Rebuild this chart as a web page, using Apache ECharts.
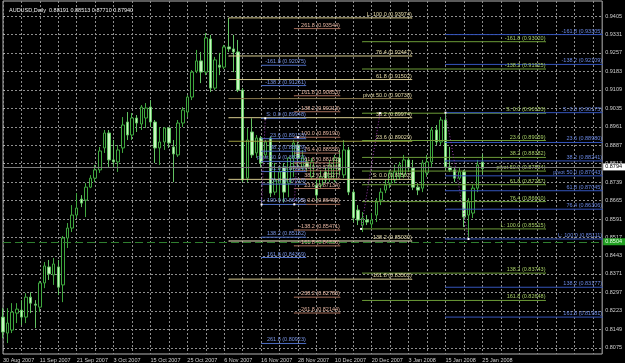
<!DOCTYPE html>
<html><head><meta charset="utf-8">
<script src="https://cdn.jsdelivr.net/npm/echarts@6/dist/echarts.min.js"></script>
<style>html,body{margin:0;padding:0;background:#000}#c{width:625px;height:363px}</style>
</head><body><div id="c"></div>
<script>
// ---- data ----
const titleText = 'AUDUSD,Daily  0.88191 0.88513 0.87710 0.87940';
const dateLabels = ['30 Aug 2007','11 Sep 2007','21 Sep 2007','3 Oct 2007','15 Oct 2007','25 Oct 2007','6 Nov 2007','16 Nov 2007','28 Nov 2007','10 Dec 2007','20 Dec 2007','3 Jan 2008','15 Jan 2008','25 Jan 2008'];
const dateLabelBars = [0,8,16,24,32,40,48,56,64,72,80,88,96,104];
const opens = [0.8198,0.8134,0.8146,0.8214,0.8226,0.8198,0.8278,0.8250,0.8238,0.8335,
0.8399,0.8367,0.8399,0.8327,0.8515,0.8555,0.8607,0.8671,0.8667,0.8719,
0.8755,0.8788,0.8876,0.8936,0.8828,0.8820,0.8876,0.8980,0.8928,0.8996,
0.8972,0.8996,0.9040,0.8980,0.8876,0.8900,0.8956,0.8880,0.8848,0.8976,
0.9020,0.9080,0.9184,0.9225,0.9180,0.9313,0.9116,0.9208,0.9200,0.9281,
0.9273,0.9261,0.9108,0.8755,0.8940,0.8856,0.8916,0.8848,0.8916,0.8699,
0.8735,0.8800,0.8735,0.8836,0.8888,0.8800,0.8820,0.8760,0.8727,0.8727,
0.8780,0.8755,0.8748,0.8836,0.8768,0.8868,0.8699,0.8627,0.8567,0.8587,
0.8571,0.8607,0.8667,0.8707,0.8735,0.8748,0.8760,0.8768,0.8828,0.8796,
0.8719,0.8715,0.8776,0.8820,0.8948,0.8900,0.8988,0.8800,0.8788,0.8755,
0.8780,0.8607,0.8615,0.8715,0.88191];
const closes = [0.8138,0.8174,0.8218,0.8230,0.8198,0.8278,0.8254,0.8246,0.8335,0.8403,
0.8371,0.8411,0.8318,0.8515,0.8555,0.8607,0.8635,0.8655,0.8719,0.8755,
0.8788,0.8864,0.8936,0.8828,0.8820,0.8868,0.8968,0.8928,0.8996,0.8976,
0.9040,0.9036,0.8980,0.8876,0.8900,0.8956,0.8896,0.8852,0.8976,0.9028,
0.9080,0.9180,0.9225,0.9180,0.9317,0.9116,0.9229,0.9200,0.9281,0.9273,
0.9261,0.9108,0.8748,0.8908,0.8848,0.8916,0.8816,0.8900,0.8695,0.8748,
0.8780,0.8699,0.8836,0.8896,0.8836,0.8840,0.8800,0.8820,0.8687,0.8760,
0.8748,0.8808,0.8836,0.8788,0.8868,0.8699,0.8595,0.8587,0.8595,0.8579,
0.8587,0.8659,0.8699,0.8727,0.8776,0.8780,0.8808,0.8828,0.8796,0.8719,
0.8707,0.8816,0.8820,0.8948,0.8900,0.8988,0.8800,0.8788,0.8755,0.8780,
0.8599,0.8659,0.8715,0.8808,0.87940];
const lows = [0.8114,0.8094,0.8134,0.8174,0.8166,0.8174,0.8214,0.8154,0.8218,0.8314,
0.8347,0.8327,0.8286,0.8258,0.8475,0.8539,0.8595,0.8639,0.8599,0.8715,
0.8739,0.8776,0.8856,0.8800,0.8796,0.8780,0.8856,0.8908,0.8908,0.8940,
0.8948,0.8956,0.8960,0.8816,0.8808,0.8868,0.8876,0.8739,0.8840,0.8960,
0.9000,0.9068,0.9176,0.9136,0.9168,0.9100,0.9108,0.9168,0.9192,0.9261,
0.9180,0.9100,0.8739,0.8739,0.8836,0.8836,0.8800,0.8836,0.8679,0.8687,
0.8667,0.8659,0.8679,0.8760,0.8800,0.8780,0.8780,0.8748,0.8667,0.8715,
0.8735,0.8739,0.8739,0.8768,0.8755,0.8687,0.8579,0.8567,0.8539,0.8567,
0.8555,0.8579,0.8647,0.8695,0.8715,0.8735,0.8748,0.8755,0.8780,0.8707,
0.8687,0.8699,0.8760,0.8800,0.8888,0.8888,0.8788,0.8780,0.8739,0.8748,
0.8559,0.8511,0.8595,0.8699,0.87710];
const highs = [0.8234,0.8234,0.8254,0.8254,0.8266,0.8294,0.8298,0.8266,0.8343,0.8419,
0.8427,0.8435,0.8427,0.8523,0.8575,0.8647,0.8695,0.8687,0.8735,0.8767,
0.8808,0.8880,0.8948,0.8948,0.8908,0.8888,0.9000,0.9020,0.9016,0.9008,
0.9048,0.9056,0.9068,0.8988,0.8960,0.8960,0.8960,0.8908,0.8988,0.9040,
0.9088,0.9188,0.9269,0.9261,0.9337,0.9329,0.9241,0.9257,0.9289,0.9397,
0.9329,0.9309,0.9116,0.8956,0.8995,0.8928,0.8924,0.8908,0.8920,0.8816,
0.8800,0.8816,0.8840,0.8908,0.8900,0.8868,0.8836,0.8836,0.8748,0.8788,
0.8796,0.8828,0.8848,0.8868,0.8908,0.8880,0.8707,0.8647,0.8619,0.8607,
0.8615,0.8675,0.8715,0.8748,0.8788,0.8808,0.8820,0.8848,0.8840,0.8828,
0.8735,0.8828,0.8848,0.8960,0.8968,0.9000,0.9015,0.8880,0.8796,0.8796,
0.8788,0.8675,0.8727,0.8828,0.88513];
const priceTicks = [0.8075,0.8149,0.8223,0.8297,0.8371,0.8443,0.8517,0.8591,0.8665,0.8739,0.8813,0.8887,0.8961,0.9035,0.9109,0.9183,0.9257,0.9331,0.9405];
const bidPrice = 0.8794;
const hLinePrice = 0.8504;

// Fibonacci levels (labels and prices as printed on the chart)
const tanLabels = ['L: 100.0','76.4','61.8','pivot 50.0','38.2','23.6','S: 0.0','-138.2','-161.8'];
const tanValues = [0.93974,0.92447,0.91502,0.90738,0.89974,0.89029,0.87502,0.85030,0.83502];
const salmonLabels = ['261.8','161.8','138.2','100.0','76.4','61.8','pivot 50.0','38.2','23.6','S: 0.0','-138.2','-161.8','-238.2','-261.8'];
const salmonValues = [0.93544,0.90853,0.90213,0.89190,0.88555,0.88162,0.87845,0.87527,0.87134,0.86499,0.85471,0.84836,0.82780,0.82144];
const blue1Labels = ['-161.8','-138.2','S: 0.0','23.6','38.2','pivot 50.0','61.8','76.4','L: 100.0','138.2','161.8','261.8'];
const blue1Values = [0.92075,0.91261,0.89948,0.89133,0.88629,0.88222,0.87814,0.87310,0.86495,0.85182,0.84369,0.80923];
const greenLabels = ['-161.8','-138.2','S: 0.0','23.6','38.2','pivot 50.0','61.8','76.4','L: 100.0','138.2','161.8'];
const greenValues = [0.93020,0.91925,0.90153,0.89059,0.88382,0.87834,0.87287,0.86610,0.85515,0.83743,0.82648];
const blue2Labels = ['-161.8','-138.2','S: 0.0','23.6','38.2','pivot 50.0','61.8','76.4','L: 100.0','138.2','161.8'];
const blue2Values = [0.93305,0.92109,0.90175,0.88980,0.88241,0.87643,0.87045,0.86306,0.85111,0.83177,0.81981];
// anchor bars of each fib tool (time anchors)
const tanSpan = [49, 88.7], salmonSpan = [63.2, 73.1], blue1Span = [56.1, 65.7], greenSpan = [78, 117.7], blue2Span = [96, 130];
const blue1Diag = [[56.1, 0.86495],[56.9, 0.89948]];
const salmonDiag = [[63.2, 0.86499],[64.0, 0.89190]];
const greenDiag = [[77.7, 0.85515],[81.8, 0.90153]];
const blue2Diag = [[96.0, 0.90175],[101.0, 0.85111]];

// ---- chart ----
const FONT = 'Liberation Sans, Arial, sans-serif';
const FS = 5.5;
const NCAT = 131;
const cats = [];
for (let i = 0; i < NCAT; i++) cats.push(String(i));
const labelMap = {};
dateLabelBars.forEach((b, k) => { labelMap[b] = dateLabels[k]; });
const candleData = opens.map((o, i) => [o, closes[i], lows[i], highs[i]]);

const series = [];
series.push({
  type: 'candlestick', xAxisIndex: 0, yAxisIndex: 0, barWidth: 3, silent: true,
  data: candleData,
  itemStyle: { color: '#000000', color0: '#c8f8c0', borderColor: '#3fa83f', borderColor0: '#62c262', borderWidth: 1 },
  markLine: {
    symbol: ['none','none'], silent: true, animation: false,
    data: [
      { yAxis: bidPrice, lineStyle: { color: '#7c7c7c', type: 'solid', width: 1 },
        label: { show: true, position: 'end', distance: 1, formatter: bidPrice.toFixed(4), backgroundColor: '#ffffff', color: '#000', fontSize: FS, fontFamily: FONT, padding: [1,3,0,2] } },
      { yAxis: hLinePrice, lineStyle: { color: '#2f7f2f', type: [8,4], width: 1 },
        label: { show: true, position: 'end', distance: 1, formatter: hLinePrice.toFixed(4), backgroundColor: '#22a022', color: '#e8ffe8', fontSize: FS, fontFamily: FONT, padding: [1,3,0,2] } }
    ]
  },
  z: 2
});

function addFib(labels, values, span, lineColors, textColor) {
  values.forEach((v, k) => {
    const txt = labels[k] + ' (' + v.toFixed(5) + ')';
    const lc = Array.isArray(lineColors) ? lineColors[k] : lineColors;
    series.push({
      type: 'line', xAxisIndex: 1, yAxisIndex: 0, silent: true, animation: false,
      symbol: 'circle', symbolSize: 1, showSymbol: true,
      itemStyle: { color: lc },
      lineStyle: { color: lc, width: 1 },
      label: { show: false },
      data: [[span[0], v], { value: [span[1], v],
        label: { show: true, position: 'top', align: 'right', distance: 0, formatter: txt,
                 color: textColor, fontSize: FS, fontFamily: FONT } }],
      z: 3
    });
  });
}
addFib(tanLabels, tanValues, tanSpan,
  ['#d6ca8e','#d6ca8e','#d6ca8e','#8c7a4e','#d6ca8e','#9c9a3c','#d6ca8e','#f2eec4','#d6ca8e'], '#e6dcaa');
addFib(salmonLabels, salmonValues, salmonSpan, '#a46c58', '#e4b4a0');
addFib(blue1Labels, blue1Values, blue1Span, '#4e6ec4', '#7894e4');
addFib(greenLabels, greenValues, greenSpan, '#6c9c38', '#a4cc64');
addFib(blue2Labels, blue2Values, blue2Span, '#3454bc', '#6a88e4');

[blue1Diag, salmonDiag, greenDiag, blue2Diag].forEach(d => {
  series.push({
    type: 'line', xAxisIndex: 1, yAxisIndex: 0, silent: true, animation: false,
    symbol: 'rect', symbolSize: 2, showSymbol: true,
    itemStyle: { color: '#ffffff' },
    lineStyle: { color: '#9a3cae', width: 1, type: [1,2] },
    data: d, z: 4
  });
});

const chart = echarts.init(document.getElementById('c'), null, { renderer: 'canvas' });
chart.setOption({
  backgroundColor: '#000000',
  animation: false,
  title: { text: titleText, left: 4, top: 2, textStyle: { color: '#f0f0f0', fontSize: FS, fontWeight: 'normal', fontFamily: FONT } },
  grid: { left: 2, top: 1, right: 19, bottom: 9, show: true, borderColor: '#b4b4b4', borderWidth: 1, backgroundColor: 'transparent' },
  xAxis: [
    { type: 'category', data: cats, boundaryGap: false, gridIndex: 0,
      axisLine: { show: false }, axisTick: { show: false },
      axisLabel: { interval: (i) => labelMap[i] !== undefined, formatter: (v, i) => labelMap[i] || '',
                   align: 'left', color: '#cfcfcf', fontSize: FS, fontFamily: FONT, margin: 3 },
      splitLine: { show: true, interval: 3, lineStyle: { color: '#8e8e8e', type: [2,2], width: 1 } } },
    { type: 'value', min: 0, max: NCAT - 1, gridIndex: 0, show: false }
  ],
  yAxis: [
    { type: 'value', position: 'right', min: 0.80501, max: 0.94651, scale: true,
      axisLine: { show: false },
      axisTick: { show: true, length: 2, customValues: priceTicks, lineStyle: { color: '#b4b4b4' } },
      axisLabel: { customValues: priceTicks, formatter: (v) => v.toFixed(4), color: '#cfcfcf', fontSize: FS, fontFamily: FONT, margin: 3 },
      splitLine: { show: true, lineStyle: { color: '#8e8e8e', type: [2,2], width: 1 } } }
  ],
  series: series
});
</script>
</body></html>
